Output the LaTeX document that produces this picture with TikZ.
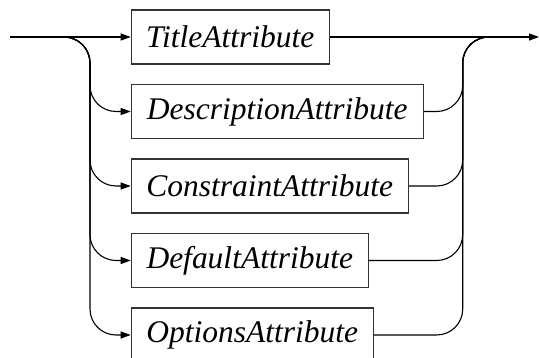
\documentclass[tikz,border=0pt]{standalone}
\usepackage{fontspec}
\setmainfont{Liberation Serif}
\usetikzlibrary{arrows.meta}
\begin{document}
\begin{tikzpicture}[x=1pt,y=-1pt,
  line width=1.1pt,
  arr/.style={-{Triangle[length=10pt,width=7pt]}},
  rr/.style={rounded corners=26pt},
  nt/.style={draw=black!80, line width=1.1pt, minimum height=54pt, inner sep=0pt,
    font=\fontsize{31.5}{34}\selectfont\itshape, anchor=west}]
\useasboundingbox (0,0) rectangle (539,358);
\coordinate (start) at (10,37);
\coordinate (split) at (64,37);
\coordinate (join) at (489,37);
\coordinate (end) at (539,37);
\coordinate (lv) at (90,37);
\coordinate (rv) at (462.7,37);
\node[nt, minimum width=198pt] (t1) at (130.7,37) {TitleAttribute};
\node[nt, minimum width=292pt] (t2) at (130.7,111.5) {DescriptionAttribute};
\node[nt, minimum width=277pt] (t3) at (130.7,186) {ConstraintAttribute};
\node[nt, minimum width=237pt] (t4) at (130.7,260.5) {DefaultAttribute};
\node[nt, minimum width=242pt] (t5) at (130.7,335) {OptionsAttribute};
\draw[arr] (start) -- (t1.west);
\draw[arr] (t1.east) -- (end);
\foreach \k in {2,3,4,5}{
  \draw[arr, rr] (split) -| (lv |- t\k.west) -- (t\k.west);
  \draw[rr] (t\k.east) -| (rv) -- (join);
}
\end{tikzpicture}
\end{document}
